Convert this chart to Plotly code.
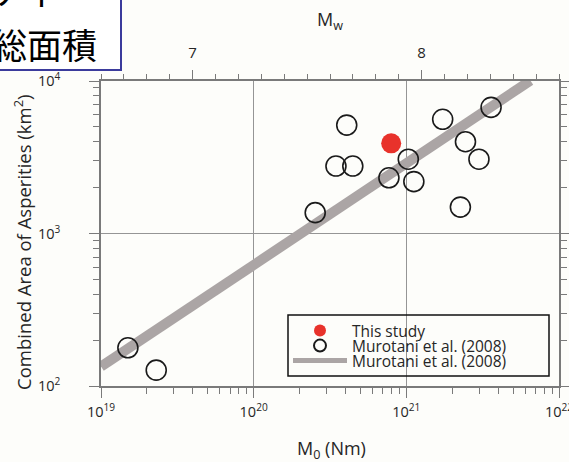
import plotly.graph_objects as go

# Seismic moment M0 (Nm) and combined asperity area (km^2)
m0_this_study = [7.96e20]
area_this_study = [3900]

m0_murotani = [3.59e21, 1.73e21, 4.07e20, 2.44e21, 1.03e21, 2.99e21, 3.46e20,
               4.46e20, 7.69e20, 1.12e21, 2.53e20, 2.26e21, 1.50e19, 2.30e19]
area_murotani = [6720, 5610, 5140, 4000, 3070, 3070, 2770,
                 2770, 2320, 2190, 1370, 1490, 178, 127]

# Scaling relation (end points of the regression line)
m0_fit = [1.0e19, 6.5e21]
area_fit = [134, 10060]

# Axis tick definitions
x_major_exp = [19, 20, 21, 22]
y_major_exp = [2, 3, 4]
mw_major = [7, 8]
mw_minor = [round(6.6 + 0.1 * i, 1) for i in range(21)]

W, H = 569, 462
ML, MR, MT, MB = 101, 10, 81, 76
PW, PH = W - ML - MR, H - MT - MB


def px(x):
    return (x - ML) / PW


def py(y):
    return (H - MB - y) / PH


def mw_to_m0(mw):
    return 10.0 ** (1.5 * mw + 9.1)


AXIS = "#7a7a7a"
TEXT = "#262626"
FONT = "Open Sans"
BG = "#fdfdfa"
XR = [19, 22.00002]
YR = [2, 4.00002]

fig = go.Figure()

fig.add_trace(go.Scatter(
    x=m0_fit, y=area_fit, mode="lines",
    line=dict(color="#aba5a5", width=10),
    name="Murotani et al. (2008)", legend="legend3", hoverinfo="skip"))

fig.add_trace(go.Scatter(
    x=m0_murotani, y=area_murotani, mode="markers",
    marker=dict(symbol="circle-open", size=20, color="#1a1a1a",
                line=dict(width=1.6, color="#1a1a1a")),
    name="Murotani et al. (2008)", legend="legend2"))

fig.add_trace(go.Scatter(
    x=m0_this_study, y=area_this_study, mode="markers",
    marker=dict(symbol="circle", size=20, color="#e8322b"),
    name="This study", legend="legend"))

# Invisible trace so the moment-magnitude axis on top is drawn
fig.add_trace(go.Scatter(
    x=m0_fit, y=area_fit, xaxis="x2", mode="lines",
    line=dict(width=0), opacity=0, showlegend=False, hoverinfo="skip"))

x_minor = [m * 10.0 ** e for e in x_major_exp[:-1] for m in range(2, 10)]
y_minor = [m * 10.0 ** e for e in y_major_exp[:-1] for m in range(2, 10)]


def legend_row(y_px):
    return dict(
        x=px(282), y=py(y_px), xanchor="left", yanchor="middle",
        bgcolor="rgba(0,0,0,0)", borderwidth=0,
        font=dict(family=FONT, size=15.5, color=TEXT),
        itemsizing="constant", itemwidth=54, indentation=6)


fig.update_layout(
    width=W, height=H,
    margin=dict(l=ML, r=MR, t=MT, b=MB, pad=0, autoexpand=False),
    paper_bgcolor=BG, plot_bgcolor=BG,
    font=dict(family=FONT, color=TEXT, size=13),
    showlegend=True,
    legend=legend_row(331),
    legend2=legend_row(346),
    legend3=legend_row(361),
    xaxis=dict(
        type="log", range=XR, automargin=False,
        tickmode="array",
        tickvals=[10.0 ** e for e in x_major_exp],
        ticktext=[f"10<sup>{e}</sup>" for e in x_major_exp],
        ticklabeloverflow="allow",
        ticks="outside", ticklen=10, tickwidth=1.2, tickcolor=AXIS,
        ticklabelstandoff=2,
        minor=dict(tickvals=x_minor, ticks="outside", ticklen=6,
                   tickwidth=1.2, tickcolor=AXIS),
        showgrid=True, gridcolor="#959595", gridwidth=1,
        showline=True, linecolor=AXIS, linewidth=1.5,
        zeroline=False, tickfont=dict(size=14.5, color=TEXT)),
    xaxis2=dict(
        type="log", range=XR, overlaying="x", side="top",
        automargin=False,
        tickmode="array",
        tickvals=[mw_to_m0(m) for m in mw_major],
        ticktext=[str(m) for m in mw_major],
        ticks="outside", ticklen=9, tickwidth=1.2, tickcolor=AXIS,
        ticklabelstandoff=6,
        minor=dict(tickvals=[mw_to_m0(m) for m in mw_minor], ticks="outside",
                   ticklen=5, tickwidth=1.2, tickcolor=AXIS),
        showgrid=False, showline=True, linecolor=AXIS, linewidth=1.5,
        zeroline=False, tickfont=dict(size=15, color=TEXT)),
    yaxis=dict(
        type="log", range=YR, automargin=False,
        tickmode="array",
        tickvals=[10.0 ** e for e in y_major_exp],
        ticktext=[f"10<sup>{e}</sup>" for e in y_major_exp],
        ticks="outside", ticklen=10, tickwidth=1.2, tickcolor=AXIS,
        ticklabelstandoff=26,
        minor=dict(tickvals=y_minor, ticks="outside", ticklen=6,
                   tickwidth=1.2, tickcolor=AXIS),
        showgrid=True, gridcolor="#959595", gridwidth=1,
        showline=True, linecolor=AXIS, linewidth=1.5, mirror="ticks",
        zeroline=False, tickfont=dict(size=14.5, color=TEXT)),
)

annotations = [
    dict(text="M<sub>0</sub> (Nm)", x=px(331), y=py(449),
         font=dict(size=18)),
    dict(text="M<sub>w</sub>", x=px(330), y=py(20), font=dict(size=18)),
    dict(text="Combined Area of Asperities (km<sup>2</sup>)", x=px(22),
         y=py(242), textangle=-90, font=dict(size=18.5)),
    dict(text="総面積", x=px(44), y=py(43),
         font=dict(size=35, family="Noto Sans CJK JP", color="#000000")),
    dict(text="アスペリティ", x=px(60), y=py(-11), xanchor="right",
         font=dict(size=35, family="Noto Sans CJK JP", color="#000000")),
]
for a in annotations:
    a.setdefault("xanchor", "center")
    a.update(xref="paper", yref="paper", yanchor="middle", showarrow=False)
fig.update_layout(annotations=annotations)

# Framed caption box in the upper-left corner
fig.add_shape(type="rect", xref="paper", yref="paper",
              x0=px(-6), x1=px(121), y0=py(70), y1=py(-6),
              line=dict(color="#3b3b9c", width=2), fillcolor="#ffffff",
              layer="below")

# Legend frame
fig.add_shape(type="rect", xref="paper", yref="paper",
              x0=px(288), x1=px(549), y0=py(376), y1=py(315),
              line=dict(color="#111111", width=1.5), fillcolor="rgba(0,0,0,0)",
              layer="above")

fig.write_html("out.html")
